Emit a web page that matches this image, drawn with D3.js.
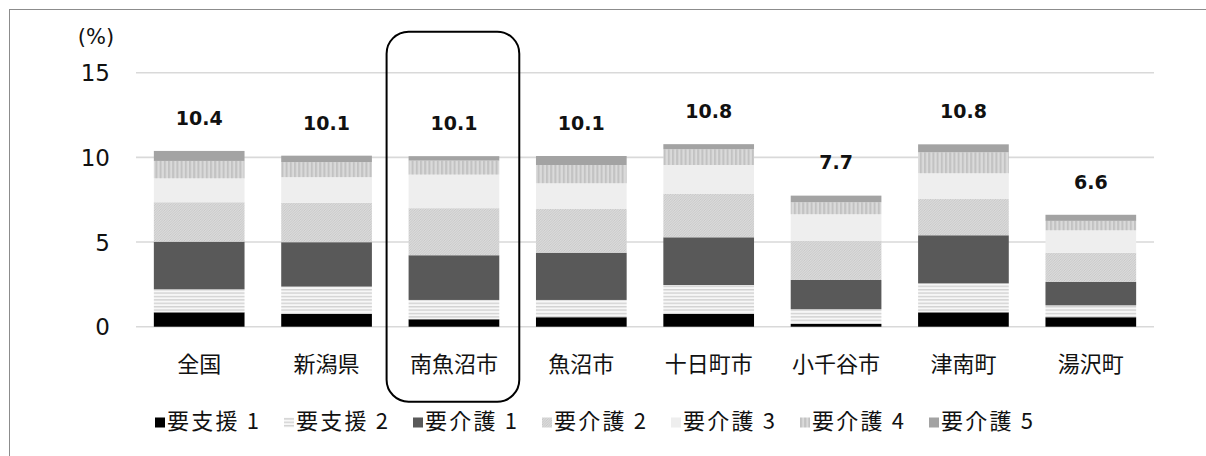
<!DOCTYPE html>
<html>
<head>
<meta charset="utf-8">
<script src="https://cdn.jsdelivr.net/npm/d3@7/dist/d3.min.js"></script>
<style>
  html, body { margin: 0; padding: 0; background: #fff; }
  svg { display: block; }
</style>
</head>
<body>
<svg id="chart" width="1206" height="456"></svg>
<script>
// Municipalities compared
const categories = ["全国", "新潟県", "南魚沼市", "魚沼市", "十日町市", "小千谷市", "津南町", "湯沢町"];
const highlighted = "南魚沼市";

// Care-level names (stack order, bottom to top)
const levels = ["要支援 1", "要支援 2", "要介護 1", "要介護 2", "要介護 3", "要介護 4", "要介護 5"];

// Certification rate by care level (%)
const shien1  = [0.85, 0.75, 0.44, 0.56, 0.75, 0.16, 0.85, 0.56];
const shien2  = [1.36, 1.62, 1.14, 1.02, 1.71, 0.87, 1.71, 0.70];
const kaigo1  = [2.81, 2.62, 2.64, 2.79, 2.82, 1.73, 2.84, 1.38];
const kaigo2  = [2.33, 2.33, 2.78, 2.58, 2.56, 2.32, 2.14, 1.73];
const kaigo3  = [1.41, 1.51, 1.98, 1.52, 1.71, 1.56, 1.52, 1.32];
const kaigo4  = [1.03, 0.89, 0.83, 1.08, 0.93, 0.71, 1.24, 0.56];
const kaigo5  = [0.59, 0.38, 0.26, 0.53, 0.30, 0.39, 0.47, 0.36];

const yTicks = [0, 5, 10, 15];

const seriesValues = [shien1, shien2, kaigo1, kaigo2, kaigo3, kaigo4, kaigo5];

const rows = categories.map((c, i) => {
  const r = { category: c };
  levels.forEach((k, j) => { r[k] = seriesValues[j][i]; });
  return r;
});
const totals = categories.map((c, i) => d3.sum(seriesValues, s => s[i]));

const svg = d3.select("#chart");
const W = 1206, H = 456;

// Frame lines (top and left)
svg.append("line").attr("x1", 9).attr("x2", W).attr("y1", 9.5).attr("y2", 9.5)
  .attr("stroke", "#8c8c8c").attr("stroke-width", 1);
svg.append("line").attr("x1", 9.5).attr("x2", 9.5).attr("y1", 9).attr("y2", H)
  .attr("stroke", "#8c8c8c").attr("stroke-width", 1);

// Fill patterns
const defs = svg.append("defs");

const pHoriz = defs.append("pattern").attr("id", "p-horiz")
  .attr("patternUnits", "userSpaceOnUse").attr("width", 6).attr("height", 3.4);
pHoriz.append("rect").attr("width", 6).attr("height", 3.4).attr("fill", "#f7f7f7");
pHoriz.append("rect").attr("y", 0).attr("width", 6).attr("height", 1.4).attr("fill", "#d2d2d2");

const pDiag = defs.append("pattern").attr("id", "p-diag")
  .attr("patternUnits", "userSpaceOnUse").attr("width", 2.5).attr("height", 2.5);
pDiag.append("rect").attr("width", 2.5).attr("height", 2.5).attr("fill", "#e6e6e6");
pDiag.append("path").attr("d", "M-1,1 L1,-1 M0,2.5 L2.5,0 M1.5,3.5 L3.5,1.5")
  .attr("stroke", "#c2c2c2").attr("stroke-width", 0.9);

const pVert = defs.append("pattern").attr("id", "p-vert")
  .attr("patternUnits", "userSpaceOnUse").attr("width", 4.2).attr("height", 6);
pVert.append("rect").attr("width", 4.2).attr("height", 6).attr("fill", "#dadada");
pVert.append("rect").attr("width", 2).attr("height", 6).attr("fill", "#c2c2c2");

const fills = ["#000000", "url(#p-horiz)", "#595959", "url(#p-diag)", "#eeeeee", "url(#p-vert)", "#a3a3a3"];

// Scales
const x = d3.scaleBand().domain(categories).range([135.5, 1154.5])
  .paddingInner(0.288).paddingOuter(0.144);
const y = d3.scaleLinear().domain([0, 15]).range([326.7, 72.7]);

// Gridlines
svg.append("g").selectAll("line").data(yTicks).join("line")
  .attr("x1", 136).attr("x2", 1154)
  .attr("y1", d => y(d)).attr("y2", d => y(d))
  .attr("stroke", "#d9d9d9").attr("stroke-width", 1.6);

// Y axis labels
const yAxis = d3.axisLeft(y).tickValues(yTicks).tickSize(0).tickPadding(0);
const gy = svg.append("g").attr("transform", "translate(110,0)").call(yAxis);
gy.select(".domain").remove();
gy.selectAll("text")
  .attr("font-family", "'DejaVu Sans', Verdana, sans-serif")
  .attr("font-size", 23).attr("fill", "#111").attr("dy", "0.36em");

svg.append("text").attr("x", 96).attr("y", 44).attr("text-anchor", "middle")
  .attr("font-family", "'DejaVu Sans', Verdana, sans-serif")
  .attr("font-size", 21).attr("fill", "#111").text("(%)");

// Stacked bars
const stack = d3.stack().keys(levels);
const layers = stack(rows);

svg.append("g").selectAll("g").data(layers).join("g")
  .attr("fill", (d, i) => fills[i])
  .selectAll("rect").data(d => d).join("rect")
  .attr("x", d => x(d.data.category))
  .attr("width", x.bandwidth())
  .attr("y", d => y(d[1]))
  .attr("height", d => y(d[0]) - y(d[1]));

// Total labels
svg.append("g").selectAll("text").data(categories).join("text")
  .attr("x", d => x(d) + x.bandwidth() / 2)
  .attr("y", (d, i) => y(totals[i]) - 33)
  .attr("dy", "0.36em")
  .attr("text-anchor", "middle")
  .attr("font-family", "'DejaVu Sans', Verdana, sans-serif")
  .attr("font-weight", "bold").attr("font-size", 19).attr("fill", "#111")
  .text((d, i) => d3.format(".1f")(totals[i]));

// Category labels
const xAxis = d3.axisBottom(x).tickSize(0).tickPadding(0);
const gx = svg.append("g").attr("transform", "translate(0,364)").call(xAxis);
gx.select(".domain").remove();
gx.selectAll("text")
  .attr("font-family", "'Noto Sans CJK JP', sans-serif")
  .attr("font-size", 22).attr("fill", "#111").attr("dy", "0.36em");

// Highlight frame around the focus municipality
svg.append("rect")
  .attr("x", x(highlighted) - 22)
  .attr("width", x.bandwidth() + 42)
  .attr("y", 31.7).attr("height", 370)
  .attr("rx", 22).attr("ry", 22)
  .attr("fill", "none").attr("stroke", "#000").attr("stroke-width", 2);

// Legend
const legend = svg.append("g").selectAll("g").data(levels).join("g")
  .attr("transform", (d, i) => `translate(${155 + i * 129},0)`);
legend.append("rect").attr("x", 0).attr("y", 417.5).attr("width", 10).attr("height", 10)
  .attr("fill", (d, i) => fills[i]);
legend.append("text").attr("x", 12).attr("y", 421).attr("dy", "0.36em")
  .attr("font-family", "'Noto Sans CJK JP', sans-serif")
  .attr("font-size", 22).attr("letter-spacing", 2.2).attr("fill", "#111")
  .text(d => d);
</script>
</body>
</html>
